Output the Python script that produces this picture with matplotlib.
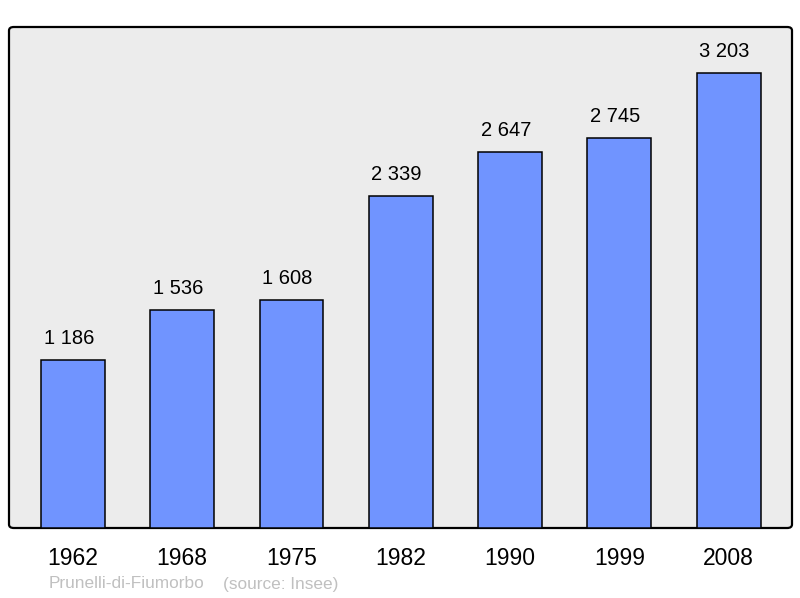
import matplotlib
matplotlib.use("Agg")
import matplotlib.pyplot as plt
from matplotlib.patches import FancyBboxPatch

years = ["1962", "1968", "1975", "1982", "1990", "1999", "2008"]
population = [1186, 1536, 1608, 2339, 2647, 2745, 3203]
value_labels = ["1 186", "1 536", "1 608", "2 339", "2 647", "2 745", "3 203"]
commune = "Prunelli-di-Fiumorbo"
source = "(source: Insee)"

plt.rcParams['font.family'] = ['Liberation Sans', 'DejaVu Sans']

fig = plt.figure(figsize=(8.0, 5.98), dpi=100)

# background with rounded border
bg = FancyBboxPatch((9/800, 70/598), 783/800, 501/598,
                    boxstyle="round,pad=0,rounding_size=0.006",
                    transform=fig.transFigure, facecolor='#ececec',
                    edgecolor='black', linewidth=1.6, zorder=-5)
fig.patches.append(bg)

ax = fig.add_axes([9/800, 70/598, 783/800, 501/598], zorder=1)
ax.set_facecolor('none')

x = list(range(len(years)))
ax.bar(x, population, width=0.585, color='#7094ff', edgecolor='black',
       linewidth=1.1, zorder=2)
for xi, v, lab in zip(x, population, value_labels):
    ax.annotate(lab, (xi, v), xytext=(-3, 15.5), textcoords='offset points',
                ha='center', va='center', fontsize=14.5, color='black')

ax.set_xlim(-0.585, 6.58)
ax.set_ylim(0, 3527)
ax.set_xticks(x)
ax.set_xticklabels(years, fontsize=16.5)
ax.tick_params(axis='x', length=0, pad=14)
ax.set_yticks([])
for s in ax.spines.values():
    s.set_visible(False)

fig.text(49/800, 1 - 584/598, commune, fontsize=12.4, color='#c0c0c0',
         ha='left', va='center')
fig.text(223/800, 1 - 584/598, source, fontsize=12.4, color='#c0c0c0',
         ha='left', va='center')

fig.savefig("out.png", dpi=100)
